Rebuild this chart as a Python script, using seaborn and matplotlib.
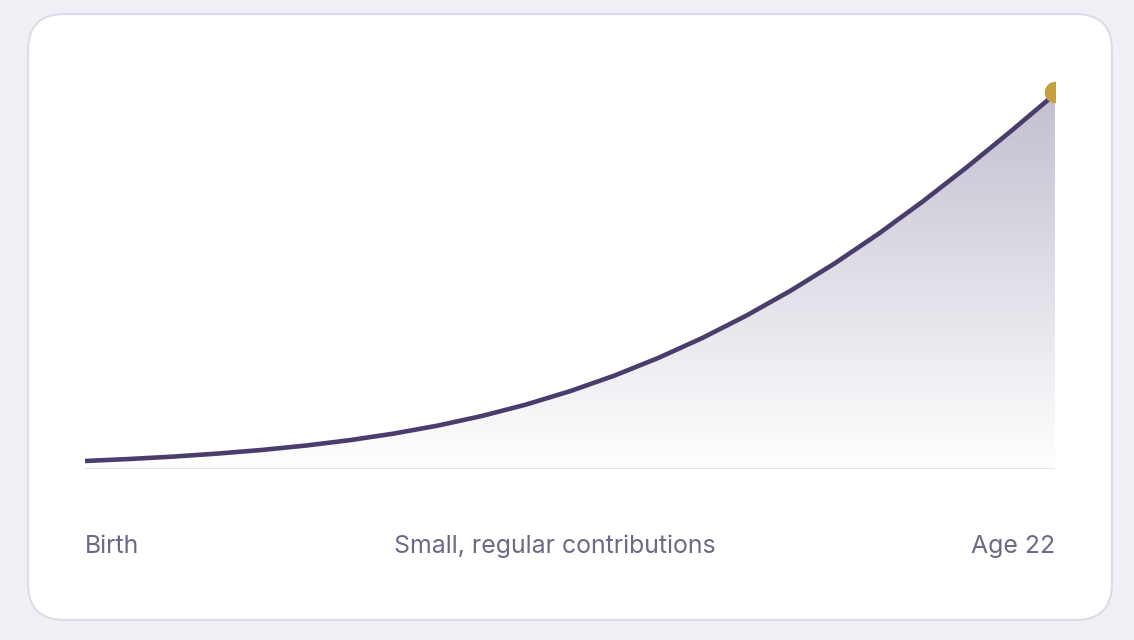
import numpy as np
import matplotlib
matplotlib.use("Agg")
import matplotlib.pyplot as plt
from matplotlib.patches import FancyBboxPatch
import pandas as pd
import seaborn as sns

sns.set_theme(style="white")
plt.rcParams['font.family'] = ['Inter', 'DejaVu Sans']

# balance by age (arbitrary units)
ages = list(range(0, 23))
balance = [8.0, 10.0, 12.4, 15.4, 19.0, 23.4, 28.8, 35.4, 43.4, 53.0, 64.4,
           77.8, 93.3, 111.0, 131.0, 153.4, 178.2, 205.5, 235.3, 267.5,
           301.8, 337.8, 375.0]
left_label = "Birth"
mid_label = "Small, regular contributions"
right_label = "Age 22"

df = pd.DataFrame({"age": ages, "balance": balance})

W, H = 1134, 640
fig = plt.figure(figsize=(W / 100, H / 100), dpi=100)
fig.patch.set_facecolor("#F1EFF6")

# card behind everything
card = FancyBboxPatch((28 / W, 1 - 620 / H), (1112 - 28) / W, (620 - 14) / H,
                      boxstyle="round,pad=0,rounding_size=0.032",
                      transform=fig.transFigure, facecolor="white",
                      edgecolor="#DEDBE8", linewidth=1.5, zorder=-1,
                      mutation_aspect=W / H)
fig.patches.append(card)

ax = fig.add_axes([85 / W, (H - 469) / H, (1055 - 85) / W, 400 / H])
ax.set_zorder(2)
ax.set_facecolor("none")
ax.set_xlim(0, 22)
ax.set_ylim(0, 400)
ax.axis("off")

# gradient fill under curve
poly = ax.fill_between(df["age"], df["balance"], 0, color="none", lw=0)
grad = np.zeros((256, 1, 4))
top = np.array([195, 191, 208]) / 255
t = np.linspace(0, 1, 256)[:, None]
grad[:, 0, :3] = top * t + (1 - t) * np.array([1, 1, 1])
grad[:, 0, 3] = 1
img = ax.imshow(grad, extent=[0, 22, 0, max(balance)], origin="lower",
                aspect="auto", zorder=1)
img.set_clip_path(poly.get_paths()[0], transform=ax.transData)

ax.axhline(0, color="#DCD8E6", lw=1.9, zorder=2)
sns.lineplot(data=df, x="age", y="balance", ax=ax, color="#4A3D6E",
             lw=3.3, zorder=3, solid_capstyle="butt")
ax.plot([ages[-1]], [balance[-1] + 2], "o", color="#C4A040", ms=14.5,
        zorder=4, clip_on=True)

ty = 1 - 546.5 / H
tc = "#6E6888"
fig.text(85 / W, ty, left_label, ha="left", va="center", fontsize=17.9, color=tc)
fig.text(555 / W, ty, mid_label, ha="center", va="center", fontsize=17.9, color=tc)
fig.text(1055 / W, ty, right_label, ha="right", va="center", fontsize=17.9, color=tc)

fig.savefig("out.png", dpi=100)
